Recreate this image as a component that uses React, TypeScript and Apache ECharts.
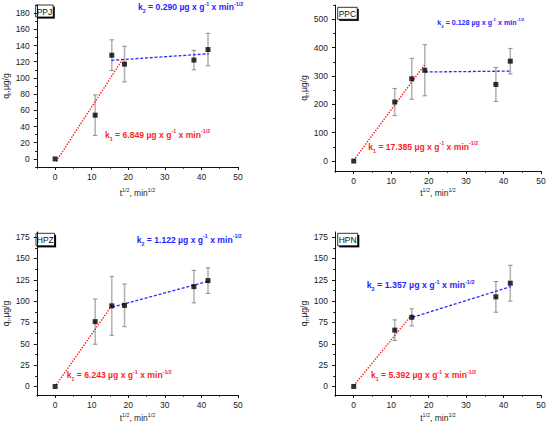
import React, { useEffect, useRef } from "react";
import * as echarts from "echarts";

// ---------- data ----------
const panelNames = ["PPJ", "PPC", "HPZ", "HPN"];

const sqrtTime = [0, 10.95, 15.49, 18.97, 37.95, 41.8];
const sqrtTimeHPN = [0, 10.95, 15.49, 37.95, 41.8];

const qPPJ = [0, 54, 128, 117, 122, 135];
const errPPJ = [0, 25, 19, 22, 12, 20];
const qPPC = [0, 208, 290, 320, 270, 352];
const errPPC = [0, 48, 72, 90, 60, 45];
const qHPZ = [0, 76, 94.5, 95, 117, 124];
const errHPZ = [0, 26.5, 34.5, 25, 19, 15];
const qHPN = [0, 66, 81, 105, 121];
const errHPN = [0, 12, 10, 18, 21];

const fit1PPJ = [[0.3, -3], [18.7, 124.5]];
const fit2PPJ = [[15.4, 121.7], [42, 129.8]];
const fit1PPC = [[0, 3], [18.9, 339]];
const fit2PPC = [[19, 314], [41.9, 317]];
const fit1HPZ = [[0.3, 2], [15.6, 95.5]];
const fit2HPZ = [[15.6, 93], [42, 123.5]];
const fit1HPN = [[0, 1], [15.7, 85]];
const fit2HPN = [[15.7, 81], [41.9, 117]];

const k1Values = ["6.849", "17.385", "6.243", "5.392"];
const k2Values = ["0.290", "0.128", "1.122", "1.357"];

const xTicks = [0, 10, 20, 30, 40, 50];
const xMinorTicks = [-5, 5, 15, 25, 35, 45];
const yTicksPPJ = [0, 20, 40, 60, 80, 100, 120, 140, 160, 180];
const yMinorPPJ = [-10, 10, 30, 50, 70, 90, 110, 130, 150, 170, 190];
const yTicksPPC = [0, 100, 200, 300, 400, 500];
const yMinorPPC = [50, 150, 250, 350, 450, 550];
const yTicksHP = [0, 25, 50, 75, 100, 125, 150, 175];
const yMinorHP = [12.5, 37.5, 62.5, 87.5, 112.5, 137.5, 162.5];

// ---------- layout / styling ----------
const FONT = "'Liberation Sans', Arial, Helvetica, sans-serif";

const layout = [
  { left: 33, top: 5, width: 205, height: 162, xMin: -5, xMax: 50, yMin: -10, yMax: 190,
    xGap: 20, yGap: 20,
    box: [35.7, 5, 17.5, 12], k2: [138, 7.3, 8.6], k1: [105, 135, 8.6] },
  { left: 335, top: 5, width: 206, height: 166, xMin: -5, xMax: 50, yMin: -35, yMax: 550,
    xGap: 16, yGap: 21,
    box: [337.7, 7.3, 19.5, 12], k2: [437.3, 23.3, 7.1], k1: [368.3, 147, 8.6] },
  { left: 33, top: 232, width: 205, height: 163, xMin: -5, xMax: 50, yMin: -10, yMax: 181,
    xGap: 17, yGap: 20,
    box: [36, 233.3, 18.5, 12.5], k2: [136.7, 240, 8.6], k1: [66.7, 375.3, 8.6] },
  { left: 335, top: 232, width: 206, height: 163, xMin: -5, xMax: 50, yMin: -10, yMax: 181,
    xGap: 17, yGap: 21,
    box: [337.7, 233.3, 20, 12.5], k2: [366.7, 285.3, 8.8], k1: [371, 375.3, 8.6] },
];

function richDefs(color: string, size: number, bold: boolean, graphic: boolean) {
  const c = graphic ? "fill" : "color";
  const w = bold ? "bold" : "normal";
  const small = Math.round(size * 0.62 * 10) / 10;
  return {
    m: { [c]: color, fontSize: size, fontWeight: w, fontFamily: FONT, lineHeight: size + 4, verticalAlign: "middle" },
    sup: { [c]: color, fontSize: small, fontWeight: w, fontFamily: FONT, lineHeight: small + 1, verticalAlign: "top" },
    sub: { [c]: color, fontSize: small, fontWeight: w, fontFamily: FONT, lineHeight: small + 1, verticalAlign: "bottom" },
  };
}

function kText(idx: string, value: string) {
  return `{m|k}{sub|${idx}}{m| = ${value} µg x g}{sup|-1}{m| x min}{sup|-1/2}`;
}

export default function App() {
  const ref = useRef<HTMLDivElement>(null);

  useEffect(() => {
    if (!ref.current) return;
    const chart = echarts.init(ref.current, undefined, { renderer: "svg" });

    const xs = [sqrtTime, sqrtTime, sqrtTime, sqrtTimeHPN];
    const qs = [qPPJ, qPPC, qHPZ, qHPN];
    const errs = [errPPJ, errPPC, errHPZ, errHPN];
    const fit1 = [fit1PPJ, fit1PPC, fit1HPZ, fit1HPN];
    const fit2 = [fit2PPJ, fit2PPC, fit2HPZ, fit2HPN];
    const yT = [yTicksPPJ, yTicksPPC, yTicksHP, yTicksHP];
    const yM = [yMinorPPJ, yMinorPPC, yMinorHP, yMinorHP];

    const tickLabel = { fontSize: 8.5, color: "#222", fontFamily: FONT };
    const axisLineStyle = { color: "#111", width: 1 };

    const grid: any[] = [];
    const xAxis: any[] = [];
    const yAxis: any[] = [];
    const series: any[] = [];
    const graphic: any[] = [];

    layout.forEach((L, i) => {
      grid.push({ left: L.left, top: L.top, width: L.width, height: L.height, containLabel: false });

      xAxis.push({
        type: "value", gridIndex: i, min: L.xMin, max: L.xMax, position: "bottom",
        axisLine: { onZero: false, lineStyle: axisLineStyle },
        axisTick: { length: 3, customValues: xTicks, lineStyle: axisLineStyle },
        axisLabel: { ...tickLabel, margin: 5, customValues: xTicks },
        splitLine: { show: false },
        name: "{m|t}{sup|1/2}{m|, min}{sup|1/2}",
        nameLocation: "middle", nameGap: L.xGap,
        nameTextStyle: { rich: richDefs("#222", 8.5, false, false) },
      });
      xAxis.push({
        type: "value", gridIndex: i, min: L.xMin, max: L.xMax, position: "bottom",
        axisLine: { show: false, onZero: false },
        axisTick: { length: 1.7, customValues: xMinorTicks, lineStyle: axisLineStyle },
        axisLabel: { show: false },
        splitLine: { show: false },
      });
      yAxis.push({
        type: "value", gridIndex: i, min: L.yMin, max: L.yMax, position: "left",
        axisLine: { show: true, onZero: false, lineStyle: axisLineStyle },
        axisTick: { show: true, length: 3, customValues: yT[i], lineStyle: axisLineStyle },
        axisLabel: { ...tickLabel, margin: 7, customValues: yT[i] },
        splitLine: { show: false },
        name: "{m|q}{sub|t}{m|,µg/g}",
        nameLocation: "middle", nameGap: L.yGap,
        nameTextStyle: { rich: richDefs("#222", 8.5, false, false) },
      });
      yAxis.push({
        type: "value", gridIndex: i, min: L.yMin, max: L.yMax, position: "left",
        axisLine: { show: false, onZero: false },
        axisTick: { show: true, length: 1.7, customValues: yM[i], lineStyle: axisLineStyle },
        axisLabel: { show: false },
        splitLine: { show: false },
      });

      const xi = 2 * i;
      const yi = 2 * i;
      const errData = xs[i]
        .map((x, j) => [x, qs[i][j] - errs[i][j], qs[i][j] + errs[i][j], errs[i][j]])
        .filter((d) => d[3] > 0);

      series.push({
        type: "custom", xAxisIndex: xi, yAxisIndex: yi, z: 1,
        data: errData,
        encode: { x: 0, y: [1, 2] },
        renderItem: (params: any, api: any) => {
          const x = api.value(0);
          const top = api.coord([x, api.value(2)]);
          const bot = api.coord([x, api.value(1)]);
          const cw = 2.2;
          return {
            type: "group",
            children: [
              { type: "line", shape: { x1: top[0], y1: top[1], x2: bot[0], y2: bot[1] },
                style: { stroke: "#b4b4b4", lineWidth: 1.6 } },
              { type: "line", shape: { x1: top[0] - cw, y1: top[1], x2: top[0] + cw, y2: top[1] },
                style: { stroke: "#8c8c8c", lineWidth: 1 } },
              { type: "line", shape: { x1: bot[0] - cw, y1: bot[1], x2: bot[0] + cw, y2: bot[1] },
                style: { stroke: "#8c8c8c", lineWidth: 1 } },
            ],
          };
        },
      });
      series.push({
        type: "line", xAxisIndex: xi, yAxisIndex: yi, z: 2, data: fit1[i], symbol: "none",
        lineStyle: { color: "#ff1a1a", width: 1.4, type: [1.4, 1.4] },
      });
      series.push({
        type: "line", xAxisIndex: xi, yAxisIndex: yi, z: 2, data: fit2[i], symbol: "none",
        lineStyle: { color: "#2a2aff", width: 1.3, type: [3, 1.8] },
      });
      series.push({
        type: "scatter", xAxisIndex: xi, yAxisIndex: yi, z: 3,
        data: xs[i].map((x, j) => [x, qs[i][j]]),
        symbol: "rect", symbolSize: 5,
        itemStyle: { color: "#000" },
      });

      const [bx, by, bw, bh] = L.box;
      graphic.push({
        type: "group",
        children: [
          { type: "rect", shape: { x: bx + 1.6, y: by + 1.6, width: bw, height: bh }, style: { fill: "#000" } },
          { type: "rect", shape: { x: bx, y: by, width: bw, height: bh }, style: { fill: "#fff", stroke: "#000", lineWidth: 0.8 } },
          { type: "text", style: { text: panelNames[i], x: bx + bw / 2, y: by + bh / 2 + 0.5, align: "center", verticalAlign: "middle",
              fill: "#111", fontSize: 8.5, fontFamily: FONT } },
        ],
      });
      graphic.push({
        type: "text",
        style: { text: kText("2", k2Values[i]), x: L.k2[0], y: L.k2[1], align: "left", verticalAlign: "middle",
          rich: richDefs("#1f1fff", L.k2[2], true, true) },
      });
      graphic.push({
        type: "text",
        style: { text: kText("1", k1Values[i]), x: L.k1[0], y: L.k1[1], align: "left", verticalAlign: "middle",
          rich: richDefs("#ff1f1f", L.k1[2], true, true) },
      });
    });

    chart.setOption({
      animation: false,
      backgroundColor: "#ffffff",
      grid, xAxis, yAxis, series, graphic,
    });

    return () => chart.dispose();
  }, []);

  return (
    <div
      ref={ref}
      style={{ position: "absolute", left: 0, top: 0, width: 550, height: 432 }}
    />
  );
}
